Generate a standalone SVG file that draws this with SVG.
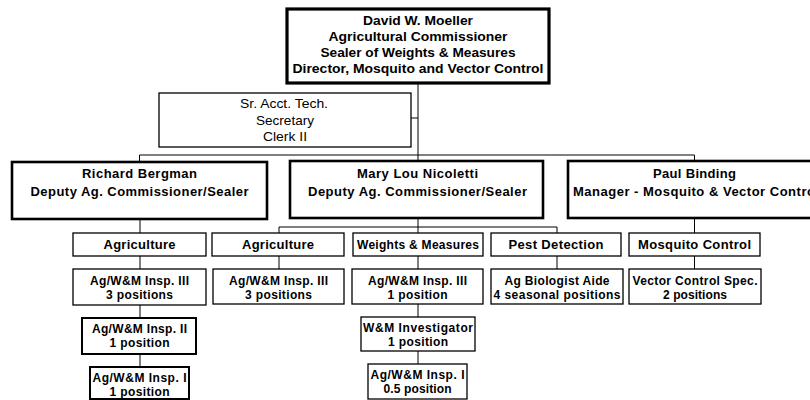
<svg xmlns="http://www.w3.org/2000/svg" width="810" height="400" viewBox="0 0 810 400">
<style>
  .bg{fill:#fff}
  .box{fill:#fff;stroke:#000;stroke-width:1.3}
  .box2{fill:#fff;stroke:#000;stroke-width:2}
  .head{fill:#fff;stroke:#000;stroke-width:2.6}
  .top{fill:#fff;stroke:#000;stroke-width:3.2}
  .conn line{stroke:#000;stroke-width:1}
  text{font-family:"Liberation Sans",Arial,sans-serif;font-weight:bold;fill:#000;text-anchor:middle}
  .t13{font-size:13px}
  .t12{font-size:12px}
  .sec{font-weight:normal;font-size:13px}
</style>
<rect class="bg" x="0" y="0" width="810" height="400"/>

<g id="connectors" class="conn">
  <line x1="418" y1="83" x2="418" y2="161"/>
  <line x1="411" y1="118" x2="418" y2="118"/>
  <line x1="139.5" y1="155" x2="694.5" y2="155"/>
  <line x1="139.5" y1="155" x2="139.5" y2="162"/>
  <line x1="694.5" y1="155" x2="694.5" y2="161"/>
  <line x1="140" y1="219" x2="140" y2="233"/>
  <line x1="140" y1="256" x2="140" y2="269"/>
  <line x1="140" y1="305" x2="140" y2="318"/>
  <line x1="140" y1="354" x2="140" y2="367"/>
  <line x1="418" y1="218" x2="418" y2="233"/>
  <line x1="279" y1="227" x2="557" y2="227"/>
  <line x1="279" y1="227" x2="279" y2="233"/>
  <line x1="557" y1="227" x2="557" y2="233"/>
  <line x1="279" y1="256" x2="279" y2="269"/>
  <line x1="418" y1="256" x2="418" y2="269"/>
  <line x1="418" y1="304" x2="418" y2="317"/>
  <line x1="418" y1="351" x2="418" y2="364"/>
  <line x1="557" y1="256" x2="557" y2="269"/>
  <line x1="694.5" y1="218" x2="694.5" y2="233"/>
  <line x1="694.5" y1="256" x2="694.5" y2="269"/>
</g>

<g id="moeller">
  <rect class="top" x="287" y="9" width="262" height="74"/>
  <text class="t13" x="418" y="25" textLength="110" lengthAdjust="spacingAndGlyphs">David W. Moeller</text>
  <text class="t13" x="418" y="41" textLength="179" lengthAdjust="spacingAndGlyphs">Agricultural Commissioner</text>
  <text class="t13" x="418" y="57" textLength="195" lengthAdjust="spacingAndGlyphs">Sealer of Weights &amp; Measures</text>
  <text class="t13" x="418" y="73" textLength="251" lengthAdjust="spacingAndGlyphs">Director, Mosquito and Vector Control</text>
</g>

<g id="secretary">
  <rect class="box" x="159" y="93" width="252" height="54"/>
  <text class="sec" x="284" y="108" textLength="88" lengthAdjust="spacingAndGlyphs">Sr. Acct. Tech.</text>
  <text class="sec" x="285" y="125" textLength="58" lengthAdjust="spacingAndGlyphs">Secretary</text>
  <text class="sec" x="285" y="141" textLength="44" lengthAdjust="spacingAndGlyphs">Clerk II</text>
</g>

<g id="bergman">
  <rect class="head" x="12" y="162" width="255" height="57"/>
  <text class="t13" x="139.5" y="178" textLength="115">Richard Bergman</text>
  <text class="t13" x="139.5" y="196" textLength="218">Deputy Ag. Commissioner/Sealer</text>
</g>

<g id="nicoletti">
  <rect class="head" x="290" y="161" width="253" height="57"/>
  <text class="t13" x="417.5" y="178" textLength="121">Mary Lou Nicoletti</text>
  <text class="t13" x="417.5" y="196" textLength="219">Deputy Ag. Commissioner/Sealer</text>
</g>

<g id="binding">
  <rect class="head" x="568" y="161" width="260" height="57"/>
  <text class="t13" x="694.5" y="178" textLength="83">Paul Binding</text>
  <text class="t13" x="573" y="196" style="text-anchor:start" textLength="246">Manager - Mosquito &amp; Vector Control</text>
</g>

<g id="agriculture-1">
  <rect class="box" x="73" y="233" width="133" height="23"/>
  <text class="t13" x="139.5" y="249" textLength="72">Agriculture</text>
</g>
<g id="agriculture-2">
  <rect class="box" x="212" y="233" width="132" height="23"/>
  <text class="t13" x="278" y="249" textLength="72">Agriculture</text>
</g>
<g id="weights-measures">
  <rect class="box" x="353" y="233" width="130" height="23"/>
  <text class="t12" x="418" y="249" textLength="122">Weights &amp; Measures</text>
</g>
<g id="pest-detection">
  <rect class="box" x="491" y="233" width="130" height="23"/>
  <text class="t13" x="556" y="249" textLength="95">Pest Detection</text>
</g>
<g id="mosquito-control">
  <rect class="box" x="629" y="233" width="131" height="23"/>
  <text class="t13" x="694.5" y="249" textLength="113">Mosquito Control</text>
</g>

<g id="insp3-ag1">
  <rect class="box" x="73" y="269" width="133" height="36"/>
  <text class="t12" x="139.5" y="285" textLength="99">Ag/W&amp;M Insp. III</text>
  <text class="t12" x="139.5" y="299" textLength="67">3 positions</text>
</g>
<g id="insp3-ag2">
  <rect class="box" x="213" y="269" width="131" height="35"/>
  <text class="t12" x="278.5" y="285" textLength="99">Ag/W&amp;M Insp. III</text>
  <text class="t12" x="278.5" y="299" textLength="67">3 positions</text>
</g>
<g id="insp3-wm">
  <rect class="box" x="352" y="269" width="131" height="35"/>
  <text class="t12" x="417.5" y="285" textLength="99">Ag/W&amp;M Insp. III</text>
  <text class="t12" x="417.5" y="299" textLength="60">1 position</text>
</g>
<g id="biologist-aide">
  <rect class="box" x="491" y="269" width="132" height="35"/>
  <text class="t12" x="557" y="285" textLength="105">Ag Biologist Aide</text>
  <text class="t12" x="557" y="299" textLength="127">4 seasonal positions</text>
</g>
<g id="vector-control-spec">
  <rect class="box" x="629" y="269" width="132" height="35"/>
  <text class="t12" x="695" y="285" textLength="125">Vector Control Spec.</text>
  <text class="t12" x="695" y="299" textLength="64">2 positions</text>
</g>

<g id="insp2-ag1">
  <rect class="box2" x="82" y="318" width="114" height="36"/>
  <text class="t12" x="139.5" y="333" textLength="95">Ag/W&amp;M Insp. II</text>
  <text class="t12" x="139.5" y="347" textLength="60">1 position</text>
</g>
<g id="wm-investigator">
  <rect class="box" x="361" y="317" width="114" height="34"/>
  <text class="t12" x="418" y="332" textLength="110">W&amp;M Investigator</text>
  <text class="t12" x="418" y="346" textLength="60">1 position</text>
</g>

<g id="insp1-ag1">
  <rect class="box2" x="90" y="367" width="99" height="32"/>
  <text class="t12" x="139.5" y="382" textLength="94">Ag/W&amp;M Insp. I</text>
  <text class="t12" x="139.5" y="396" textLength="60">1 position</text>
</g>
<g id="insp1-wm">
  <rect class="box" x="368" y="364" width="99" height="35"/>
  <text class="t12" x="417.5" y="379" textLength="94">Ag/W&amp;M Insp. I</text>
  <text class="t12" x="417.5" y="393" textLength="68">0.5 position</text>
</g>
</svg>
